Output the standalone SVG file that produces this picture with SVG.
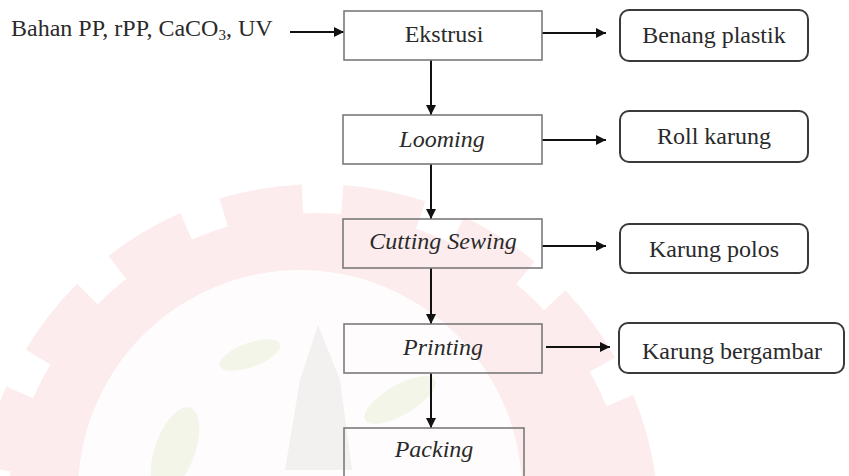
<svg xmlns="http://www.w3.org/2000/svg" width="849" height="476" viewBox="0 0 849 476">
  <style>
    text { font-family: "Liberation Serif", "Times New Roman", serif; font-size: 24px; fill: #2a2a2a; }
    .it { font-style: italic; }
    .box { fill: none; stroke: #7a7a7a; stroke-width: 1.6; }
    .out { fill: none; stroke: #3a3a3a; stroke-width: 2; }
    .conn { stroke: #111; stroke-width: 2; fill: none; marker-end: url(#ah); }
  </style>
  <defs>
    <marker id="ah" markerUnits="userSpaceOnUse" markerWidth="11" markerHeight="11" refX="10" refY="5" orient="auto">
      <path d="M0,0 L10,5 L0,10 z" fill="#111"/>
    </marker>
  </defs>
  <rect x="0" y="0" width="849" height="476" fill="#ffffff"/>

  <!-- faint background watermark -->
  <g id="watermark" opacity="0.65">
    <circle cx="318" cy="525" r="312" fill="#fbe3e6"/>
    <circle cx="318" cy="525" r="326" fill="none" stroke="#fbe3e6" stroke-width="30" stroke-dasharray="80 40"/>
    <circle cx="300" cy="492" r="222" fill="#fefbfb"/>
    <ellipse cx="250" cy="355" rx="32" ry="12" transform="rotate(-20 250 355)" fill="#ecf1dc"/>
    <ellipse cx="175" cy="450" rx="20" ry="45" transform="rotate(20 175 450)" fill="#ecf1dc"/>
    <path d="M285,470 L300,380 L318,325 L340,380 L352,470 Z" fill="#eeeae8"/>
    <ellipse cx="400" cy="400" rx="40" ry="15" transform="rotate(-30 400 400)" fill="#ecf1dc"/>
  </g>

  <g id="connectors">
    <line class="conn" x1="290" y1="32" x2="344" y2="32"/>
    <line class="conn" x1="431" y1="60" x2="431" y2="115"/>
    <line class="conn" x1="431" y1="164" x2="431" y2="219"/>
    <line class="conn" x1="431" y1="268" x2="431" y2="324"/>
    <line class="conn" x1="431" y1="373" x2="431" y2="428"/>
    <line class="conn" x1="542" y1="33" x2="606" y2="33"/>
    <line class="conn" x1="542" y1="140" x2="606" y2="140"/>
    <line class="conn" x1="542" y1="246" x2="606" y2="246"/>
    <line class="conn" x1="546" y1="347" x2="610" y2="347"/>
  </g>

  <g id="input">
    <text x="11" y="36">Bahan PP, rPP, CaCO<tspan font-size="15" dy="4">3</tspan><tspan dy="-4">, UV</tspan></text>
  </g>

  <g id="ekstrusi">
    <rect class="box" x="344" y="11" width="198" height="49"/>
    <text x="444" y="42" text-anchor="middle">Ekstrusi</text>
  </g>
  <g id="looming">
    <rect class="box" x="343" y="115" width="199" height="49"/>
    <text class="it" x="442" y="147" text-anchor="middle">Looming</text>
  </g>
  <g id="cutting-sewing">
    <rect class="box" x="343" y="219" width="199" height="49"/>
    <text class="it" x="443" y="249" text-anchor="middle">Cutting Sewing</text>
  </g>
  <g id="printing">
    <rect class="box" x="344" y="324" width="198" height="49"/>
    <text class="it" x="443" y="355" text-anchor="middle">Printing</text>
  </g>
  <g id="packing">
    <rect class="box" x="344" y="428" width="180" height="60"/>
    <text class="it" x="434" y="457" text-anchor="middle">Packing</text>
  </g>

  <g id="benang-plastik">
    <rect class="out" x="620" y="10" width="188" height="51" rx="9"/>
    <text x="714" y="43" text-anchor="middle">Benang plastik</text>
  </g>
  <g id="roll-karung">
    <rect class="out" x="620" y="111" width="188" height="51" rx="9"/>
    <text x="714" y="144" text-anchor="middle">Roll karung</text>
  </g>
  <g id="karung-polos">
    <rect class="out" x="620" y="224" width="188" height="49" rx="9"/>
    <text x="714" y="257" text-anchor="middle">Karung polos</text>
  </g>
  <g id="karung-bergambar">
    <rect class="out" x="619" y="323" width="225" height="50" rx="9"/>
    <text x="732" y="359" text-anchor="middle">Karung bergambar</text>
  </g>
</svg>
